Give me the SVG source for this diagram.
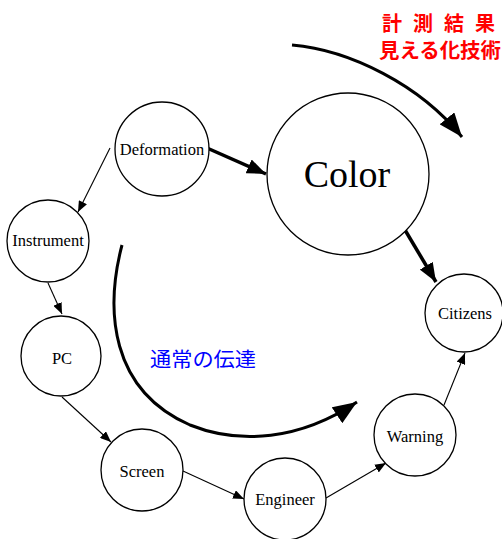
<svg xmlns="http://www.w3.org/2000/svg" width="502" height="539" viewBox="0 0 502 539">
<defs>
<style>
.node circle{fill:#fff;stroke:#000;stroke-width:1.3}
.node text{font-family:"Liberation Serif","Times New Roman",serif;font-size:16.5px;text-anchor:middle;fill:#000}
.thin{stroke:#000;stroke-width:1.1;fill:none;marker-end:url(#ah)}
.thick{stroke:#000;stroke-width:3.5;fill:none;marker-end:url(#ahb)}
.flow{stroke:#000;stroke-width:3;fill:none;marker-end:url(#ahc)}
.jp{font-family:"Noto Sans CJK JP","Noto Sans",sans-serif;font-size:20px}
</style>
<marker id="ah" markerUnits="userSpaceOnUse" markerWidth="11" markerHeight="9" refX="11" refY="4.5" orient="auto"><path d="M0,0 L11,4.5 L0,9 z" fill="#000"/></marker>
<marker id="ahb" markerUnits="userSpaceOnUse" markerWidth="19" markerHeight="15" refX="19" refY="7.5" orient="auto"><path d="M0,0 L19,7.5 L0,15 z" fill="#000"/></marker>
<marker id="ahc" markerUnits="userSpaceOnUse" markerWidth="24" markerHeight="19" refX="24" refY="9.5" orient="auto"><path d="M0,0 L24,9.5 L0,19 z" fill="#000"/></marker>
</defs>
<rect width="502" height="539" fill="#fff"/>
<g id="connectors">
<line class="thin" x1="110" y1="148" x2="78" y2="212"/>
<line class="thin" x1="48" y1="283" x2="62" y2="314"/>
<line class="thin" x1="62" y1="397" x2="111" y2="442"/>
<line class="thin" x1="183" y1="471" x2="244" y2="499"/>
<line class="thin" x1="326" y1="498" x2="386" y2="463"/>
<line class="thin" x1="444" y1="405" x2="465" y2="353"/>
<line class="thick" x1="207" y1="148" x2="266" y2="174"/>
<line class="thick" x1="405" y1="230" x2="436" y2="282"/>
<path class="flow" d="M292,45 C350,50 420,85 462,137"/>
<path class="flow" d="M122,245 C105,310 110,390 190,425 C240,445 300,440 357,402"/>
</g>
<g id="deformation" class="node"><circle cx="162" cy="149" r="47"/><text x="162" y="155">Deformation</text></g>
<g id="color" class="node"><circle cx="348" cy="174" r="81"/><text x="347" y="187" style="font-size:38px">Color</text></g>
<g id="citizens" class="node"><circle cx="464" cy="313" r="39"/><text x="465" y="319">Citizens</text></g>
<g id="instrument" class="node"><circle cx="48" cy="241" r="41"/><text x="48" y="246">Instrument</text></g>
<g id="pc" class="node"><circle cx="61" cy="356" r="40"/><text x="62" y="364">PC</text></g>
<g id="screen" class="node"><circle cx="142" cy="470" r="41"/><text x="142" y="477">Screen</text></g>
<g id="engineer" class="node"><circle cx="285" cy="499" r="41"/><text x="285" y="505">Engineer</text></g>
<g id="warning" class="node"><circle cx="415" cy="435" r="41"/><text x="415" y="442">Warning</text></g>
<g id="label-top" class="jp" fill="#ff0000" font-weight="bold">
<text x="382" y="31">計</text><text x="413" y="31">測</text><text x="444" y="31">結</text><text x="475" y="31">果</text>
<text x="379" y="58" textLength="122" lengthAdjust="spacingAndGlyphs">見える化技術</text>
</g>
<g id="label-bottom" class="jp" fill="#0000ff">
<text x="150" y="367" textLength="106" lengthAdjust="spacingAndGlyphs">通常の伝達</text>
</g>
</svg>
